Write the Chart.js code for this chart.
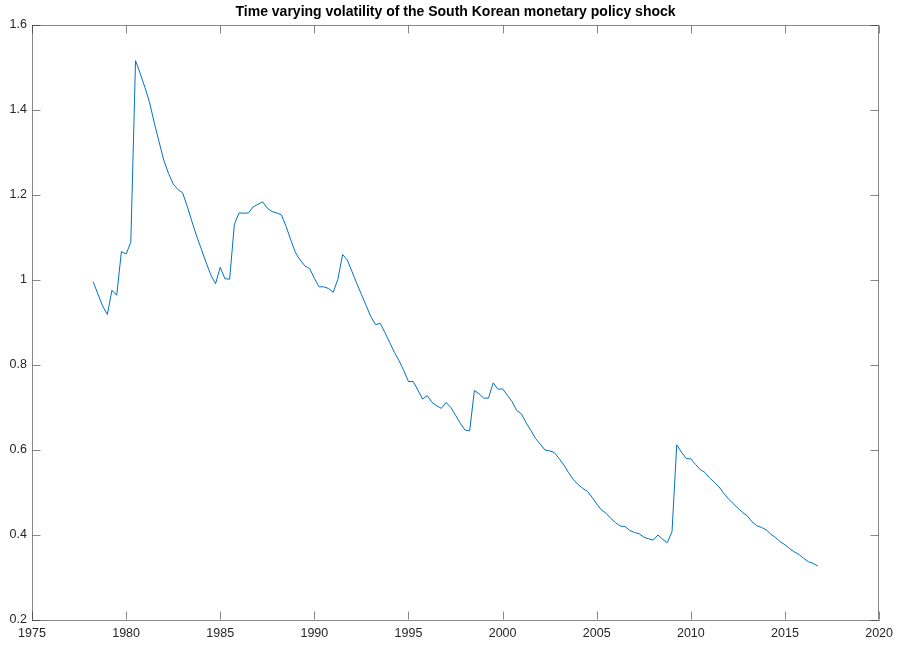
<!DOCTYPE html>
<html>
<head>
<meta charset="utf-8">
<script src="https://cdn.jsdelivr.net/npm/chart.js@4/dist/chart.umd.min.js"></script>
<style>
  html, body { margin: 0; padding: 0; background: #ffffff; }
  #wrap { width: 899px; height: 646px; }
</style>
</head>
<body>
<div id="wrap"><canvas id="c" width="899" height="646"></canvas></div>
<script>
// ---- data ----
const chartTitle = "Time varying volatility of the South Korean monetary policy shock";
const firstYear = 1978;      // first observation: 1978 Q2
const firstQuarter = 2;
const xTickLabels = [1975, 1980, 1985, 1990, 1995, 2000, 2005, 2010, 2015, 2020];
const yTickLabels = [0.2, 0.4, 0.6, 0.8, 1.0, 1.2, 1.4, 1.6];
const volatility = [
  0.996, 0.967, 0.939, 0.919, 0.976, 0.964, 1.067, 1.061, 1.089, 1.516,
  1.486, 1.453, 1.417, 1.369, 1.325, 1.282, 1.251, 1.226, 1.213, 1.205,
  1.173, 1.137, 1.103, 1.072, 1.041, 1.012, 0.991, 1.030, 1.003, 1.002,
  1.131, 1.158, 1.157, 1.158, 1.172, 1.178, 1.184, 1.169, 1.161, 1.158,
  1.153, 1.126, 1.094, 1.064, 1.047, 1.033, 1.027, 1.004, 0.984, 0.984,
  0.980, 0.971, 1.002, 1.060, 1.047, 1.020, 0.992, 0.966, 0.940, 0.914,
  0.895, 0.898, 0.876, 0.853, 0.830, 0.810, 0.787, 0.761, 0.761, 0.741,
  0.720, 0.728, 0.712, 0.704, 0.698, 0.712, 0.700, 0.682, 0.663, 0.647,
  0.645, 0.740, 0.732, 0.722, 0.722, 0.758, 0.743, 0.744, 0.729, 0.714,
  0.693, 0.685, 0.664, 0.646, 0.627, 0.614, 0.600, 0.598, 0.594, 0.580,
  0.565, 0.547, 0.531, 0.519, 0.510, 0.503, 0.489, 0.473, 0.459, 0.451,
  0.439, 0.429, 0.421, 0.420, 0.411, 0.406, 0.403, 0.395, 0.391, 0.388,
  0.400, 0.390, 0.382, 0.408, 0.612, 0.595, 0.580, 0.579, 0.566, 0.554,
  0.547, 0.534, 0.524, 0.513, 0.498, 0.485, 0.474, 0.463, 0.453, 0.445,
  0.431, 0.422, 0.418, 0.412, 0.402, 0.394, 0.384, 0.377, 0.368, 0.360,
  0.354, 0.345, 0.337, 0.333, 0.327
];
// quarterly dates (year + (quarter-1)/4)
const dates = volatility.map((_, i) => {
  const q = firstQuarter - 1 + i;
  return firstYear + Math.floor(q / 4) + (q % 4) / 4;
});

// ---- styling ----
const FONT = '"Liberation Sans", Arial, Helvetica, sans-serif';
const AXIS_COLOR = 'rgba(38,38,38,0.55)';
const TEXT_COLOR = '#262626';

const boxTicksPlugin = {
  id: 'boxTicks',
  afterDraw(chart) {
    const { ctx, chartArea: a, scales } = chart;
    const L = Math.round(a.left) + 0.5, R = Math.round(a.right) - 0.5;
    const T = Math.round(a.top) + 0.5, B = Math.round(a.bottom) - 0.5;
    const len = 8;
    ctx.save();
    ctx.strokeStyle = AXIS_COLOR;
    ctx.lineWidth = 1;
    ctx.beginPath();
    // top and right box lines
    ctx.moveTo(L, T); ctx.lineTo(R, T);
    ctx.moveTo(R, T); ctx.lineTo(R, B);
    // x ticks (bottom and top, inward)
    xTickLabels.forEach(v => {
      const px = Math.round(scales.x.getPixelForValue(v)) + 0.5;
      ctx.moveTo(px, B); ctx.lineTo(px, B - len);
      ctx.moveTo(px, T); ctx.lineTo(px, T + len);
    });
    // y ticks (left and right, inward)
    yTickLabels.forEach(v => {
      const py = Math.round(scales.y.getPixelForValue(v)) + 0.5;
      ctx.moveTo(L, py); ctx.lineTo(L + len, py);
      ctx.moveTo(R, py); ctx.lineTo(R - len, py);
    });
    ctx.stroke();
    // title
    ctx.fillStyle = '#000000';
    ctx.font = 'bold 14px ' + FONT;
    ctx.textAlign = 'center';
    ctx.textBaseline = 'middle';
    ctx.fillText(chartTitle, (a.left + a.right) / 2, 12);
    ctx.restore();
  }
};

new Chart(document.getElementById('c'), {
  type: 'line',
  data: {
    datasets: [{
      label: 'volatility',
      data: dates.map((d, i) => ({ x: d, y: volatility[i] })),
      borderColor: '#0072BD',
      borderWidth: 1,
      pointRadius: 0,
      tension: 0,
      fill: false
    }]
  },
  options: {
    responsive: false,
    animation: false,
    devicePixelRatio: 1,
    layout: { padding: { left: 0, right: 17, top: 25, bottom: 0 } },
    plugins: { legend: { display: false }, tooltip: { enabled: false }, title: { display: false } },
    scales: {
      x: {
        type: 'linear',
        min: 1975, max: 2020,
        afterBuildTicks: s => { s.ticks = xTickLabels.map(v => ({ value: v })); },
        afterFit: s => { s.height = 26; },
        grid: { display: false, drawTicks: false },
        border: { display: true, color: AXIS_COLOR, width: 1 },
        ticks: {
          callback: v => String(v),
          color: TEXT_COLOR,
          font: { family: FONT, size: 12.5 },
          padding: 6,
          maxRotation: 0,
          autoSkip: false
        }
      },
      y: {
        type: 'linear',
        min: 0.2, max: 1.6,
        afterBuildTicks: s => { s.ticks = yTickLabels.map(v => ({ value: v })); },
        afterFit: s => { s.width = 32; },
        grid: { display: false, drawTicks: false },
        border: { display: true, color: AXIS_COLOR, width: 1 },
        ticks: {
          callback: v => String(+v.toFixed(1)),
          color: TEXT_COLOR,
          font: { family: FONT, size: 12.5 },
          padding: 5,
          autoSkip: false
        }
      }
    }
  },
  plugins: [boxTicksPlugin]
});
</script>
</body>
</html>
